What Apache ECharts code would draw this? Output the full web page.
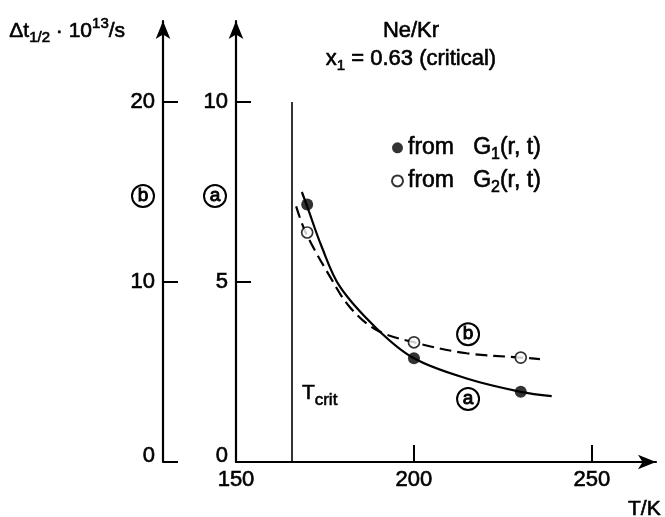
<!DOCTYPE html>
<html>
<head>
<meta charset="utf-8">
<script src="https://cdn.jsdelivr.net/npm/echarts@6/dist/echarts.min.js"></script>
<style>
  html, body { margin: 0; padding: 0; background: #fff; }
  #c { width: 665px; height: 517px; }
</style>
</head>
<body>
<div id="c"></div>
<script>
// Tick values of the temperature axis and of the two relaxation-time scales
const xTicks = [150, 200, 250];
const aTicks = [0, 5, 10];
const bTicks = [0, 10, 20];

// Critical temperature (vertical marker)
const T_CRIT = 165.7;

// Measured points: (T in K, Δt½ in 1e-13 s)
const g1Points = [[170, 7.15], [200, 2.88], [230, 1.95]];    // scale (a)
const g2Points = [[170, 12.75], [200, 6.65], [230, 5.8]];    // scale (b)

// Guide curves through the points
const curveA = [[168.5, 7.5], [170, 7.1], [174, 6.0], [179.2, 4.87], [189.5, 3.71], [200, 2.88], [214.8, 2.32], [230, 1.95], [238.7, 1.83]];
const curveB = [[166.9, 14.2], [169.6, 12.74], [176.4, 10.3], [182, 8.6], [189.5, 7.33], [200, 6.65], [214.8, 6.04], [230.5, 5.8], [235.4, 5.72]];

// Positions of the circled curve tags and of the T_crit caption, in data units
const tagA = [215.2, 1.75];
const tagB = [215.2, 7.1];
const tagCrit = [T_CRIT, 1.9];

const INK = '#000';
const FONT = 'Liberation Sans';
const THICK = 0.6;

// text style for chart components
const ts = (size, extra) => Object.assign({
  fontSize: size, fontFamily: FONT, color: INK,
  textBorderColor: INK, textBorderWidth: THICK
}, extra || {});
// text style for raw graphic elements
const gs = (size, extra) => Object.assign({
  fontSize: size, fontFamily: FONT, fill: INK,
  stroke: INK, lineWidth: THICK
}, extra || {});

const circleBox = {
  width: 20, height: 20, lineHeight: 20, align: 'center', verticalAlign: 'middle',
  borderColor: INK, borderWidth: 2, borderRadius: 12, padding: [1, 1, 1, 1]
};
const circleRich = { c: ts(19, Object.assign({ textBorderWidth: 0.9 }, circleBox)) };
const circleRichG = { c: gs(19, Object.assign({ lineWidth: 0.9 }, circleBox)) };

const zeroRich = { z: ts(22, { padding: [0, 0, 12, 0] }) };
const tickFmt = v => (v === 0 ? '{z|0}' : String(v));

const arrowLine = {
  show: true,
  symbol: ['none', 'arrow'],
  symbolSize: [11, 18],
  lineStyle: { color: INK, width: 2.2 }
};

const chart = echarts.init(document.getElementById('c'), null, { renderer: 'canvas' });

chart.setOption({
  animation: false,
  backgroundColor: '#fff',
  grid: { left: 236, right: 9, top: 21, bottom: 55, containLabel: false },
  xAxis: {
    type: 'value', min: 150, max: 268, interval: 50,
    axisLine: arrowLine,
    axisTick: { show: true, inside: true, length: 17, customValues: [200, 250], lineStyle: { color: INK, width: 2 } },
    axisLabel: Object.assign(ts(22), { customValues: xTicks, margin: 7 }),
    splitLine: { show: false }
  },
  yAxis: [
    {
      type: 'value', position: 'left', offset: 0, min: 0, max: 12.25, interval: 5,
      axisLine: arrowLine,
      axisTick: { show: true, inside: true, length: 15, customValues: [5, 10], lineStyle: { color: INK, width: 2 } },
      axisLabel: Object.assign(ts(22), { customValues: aTicks, margin: 8, formatter: tickFmt, rich: zeroRich }),
      splitLine: { show: false }
    },
    {
      type: 'value', position: 'left', offset: 73, min: 0, max: 24.5, interval: 10,
      axisLine: arrowLine,
      axisTick: { show: true, inside: true, length: 15, customValues: bTicks, lineStyle: { color: INK, width: 2 } },
      axisLabel: Object.assign(ts(22), { customValues: bTicks, margin: 8, formatter: tickFmt, rich: zeroRich }),
      splitLine: { show: false }
    }
  ],
  legend: {
    left: 386, top: 131, orient: 'vertical', itemGap: 6,
    icon: 'circle', itemWidth: 11, itemHeight: 11,
    data: ['G1', 'G2'],
    formatter: n => '{t|from   G}{s|' + n.slice(1) + '}{t|(r, t)}',
    textStyle: {
      rich: {
        t: ts(23),
        s: ts(16, { verticalAlign: 'bottom', padding: [14, 0, 0, 0] })
      }
    }
  },
  graphic: [
    {
      type: 'text', left: 9, top: 16,
      style: {
        text: '{m|Δt}{s|1/2}{m| · 10}{p|13}{m|/s}',
        rich: {
          m: gs(21),
          s: gs(15, { verticalAlign: 'bottom', padding: [14, 0, 0, 0] }),
          p: gs(15, { verticalAlign: 'top', padding: [0, 0, 6, 0] })
        }
      }
    },
    {
      type: 'text', x: 411, y: 17,
      style: {
        text: '{m|Ne/Kr}\n{m|x}{s|1}{m| = 0.63 (critical)}',
        align: 'center',
        rich: {
          m: gs(22, { lineHeight: 27 }),
          s: gs(15, { verticalAlign: 'bottom', padding: [14, 0, 0, 0] })
        }
      }
    },
    { type: 'text', x: 143, y: 196, style: { text: '{c|b}', rich: circleRichG, align: 'center', verticalAlign: 'middle' } },
    { type: 'text', x: 215, y: 196, style: { text: '{c|a}', rich: circleRichG, align: 'center', verticalAlign: 'middle' } },
    { type: 'text', x: 628, y: 499, style: gs(21, { text: 'T/K' }) }
  ],
  series: [
    {
      name: 'curveA', type: 'line', yAxisIndex: 0, data: curveA,
      smooth: 0.35, showSymbol: false, silent: true, z: 2,
      lineStyle: { color: INK, width: 2.2 },
      markLine: {
        silent: true, symbol: ['none', 'none'], animation: false,
        label: { show: false },
        lineStyle: { color: INK, width: 1.6, type: 'solid' },
        data: [[{ coord: [T_CRIT, 0] }, { coord: [T_CRIT, 10] }]]
      },
      markPoint: {
        silent: true, symbol: 'circle', symbolSize: 0,
        data: [
          { coord: tagA, label: { show: true, position: 'inside', formatter: '{c|a}', rich: circleRich } },
          {
            coord: tagCrit,
            label: {
              show: true, position: 'right', distance: 10,
              formatter: '{T|T}{s|crit}',
              rich: {
                T: ts(21),
                s: ts(17, { verticalAlign: 'bottom', padding: [14, 0, 0, 0] })
              }
            }
          }
        ]
      }
    },
    {
      name: 'curveB', type: 'line', yAxisIndex: 1, data: curveB,
      smooth: 0.35, showSymbol: false, silent: true, z: 2,
      lineStyle: { color: INK, width: 2.2, type: [12, 6] },
      markPoint: {
        silent: true, symbol: 'circle', symbolSize: 0,
        data: [{ coord: tagB, label: { show: true, position: 'inside', formatter: '{c|b}', rich: circleRich } }]
      }
    },
    {
      name: 'G1', type: 'scatter', yAxisIndex: 0, data: g1Points,
      symbol: 'circle', symbolSize: 12, z: 5,
      itemStyle: { color: INK }
    },
    {
      name: 'G2', type: 'scatter', yAxisIndex: 1, data: g2Points,
      symbol: 'circle', symbolSize: 11, z: 5,
      itemStyle: { color: '#fff', borderColor: INK, borderWidth: 1.7 }
    }
  ]
});
</script>
</body>
</html>
